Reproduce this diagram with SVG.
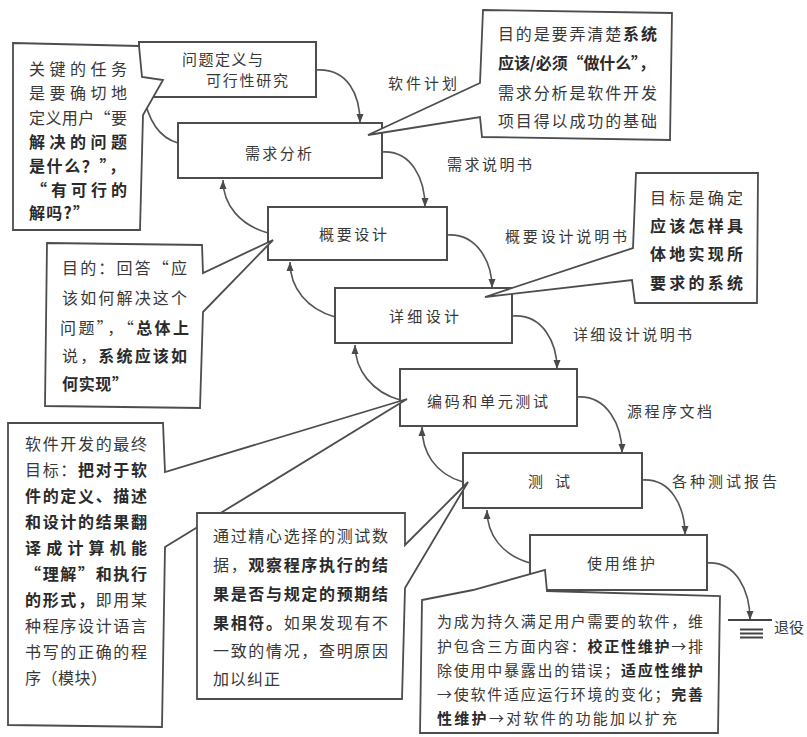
<svg xmlns="http://www.w3.org/2000/svg" width="807" height="737" viewBox="0 0 807 737">
<defs>
<marker id="ah" markerUnits="userSpaceOnUse" markerWidth="10" markerHeight="8" refX="9" refY="4" orient="auto">
<path d="M0,0.5 L9,4 L0,7.5 z" fill="#4a4a4a"/>
</marker>
<style>
.t{font-family:"Noto Sans CJK SC","Noto Sans",sans-serif;fill:#383838;font-size:15px;dominant-baseline:central;}
.c{font-size:16px;}
.c7{font-size:15px;}
.b{font-weight:bold;fill:#2a2a2a;}
.box{fill:#fff;stroke:#4d4d4d;stroke-width:2;}
.co{fill:#fff;stroke:#4d4d4d;stroke-width:1.8;stroke-linejoin:miter;}
.conn{fill:none;stroke:#555;stroke-width:1.6;marker-end:url(#ah);}
.ln{stroke:#444;stroke-width:2;}
</style>
</defs>
<rect x="0" y="0" width="807" height="737" fill="#fff"/>

<g id="connectors">
<path class="conn" d="M316,70 C348,68 360,95 360,123"/>
<path class="conn" d="M382,152 C412,150 425,180 425,207"/>
<path class="conn" d="M447,235 C477,233 492,262 492,288"/>
<path class="conn" d="M513,316 C543,314 557,343 557,369"/>
<path class="conn" d="M577,397 C607,395 622,425 622,453"/>
<path class="conn" d="M642,480 C672,478 685,508 685,535"/>
<path class="conn" d="M707,563 C737,561 750,592 750,620"/>
<path class="conn" d="M178,143 C160,138 148,122 143,92"/>
<path class="conn" d="M268,233 C240,225 223,205 223,180"/>
<path class="conn" d="M335,317 C307,309 290,288 290,262"/>
<path class="conn" d="M400,400 C372,392 355,370 355,345"/>
<path class="conn" d="M463,482 C435,474 422,452 422,427"/>
<path class="conn" d="M530,563 C502,555 487,535 487,510"/>
<text class="t" x="388" y="82" textLength="69" lengthAdjust="spacing">软件计划</text>
<text class="t" x="447" y="163" textLength="85" lengthAdjust="spacing">需求说明书</text>
<text class="t" x="505" y="235" textLength="122" lengthAdjust="spacing">概要设计说明书</text>
<text class="t" x="573" y="333" textLength="119" lengthAdjust="spacing">详细设计说明书</text>
<text class="t" x="627" y="410" textLength="85" lengthAdjust="spacing">源程序文档</text>
<text class="t" x="672" y="480" textLength="105" lengthAdjust="spacing">各种测试报告</text>
</g>

<g id="retire">
<line class="ln" x1="728" y1="620" x2="772" y2="620"/>
<line class="ln" x1="740" y1="629.5" x2="763" y2="629.5" stroke-width="1.6"/>
<line class="ln" x1="740" y1="633.5" x2="763" y2="633.5" stroke-width="1.6"/>
<line class="ln" x1="740" y1="637.5" x2="763" y2="637.5" stroke-width="1.6"/>
<text class="t" x="774" y="626" textLength="30" lengthAdjust="spacing">退役</text>
</g>

<g id="n1">
<rect class="box" x="139" y="42" width="177" height="55"/>
<text class="t" x="182" y="58" textLength="81" lengthAdjust="spacing">问题定义与</text>
<text class="t" x="206" y="79" textLength="82" lengthAdjust="spacing">可行性研究</text>
</g>
<g id="n2">
<rect class="box" x="178" y="123" width="204" height="55"/>
<text class="t" x="245" y="152" textLength="67" lengthAdjust="spacing">需求分析</text>
</g>
<g id="n3">
<rect class="box" x="268" y="207" width="179" height="53"/>
<text class="t" x="319" y="233" textLength="68" lengthAdjust="spacing">概要设计</text>
</g>
<g id="n4">
<rect class="box" x="335" y="288" width="177" height="55"/>
<text class="t" x="389" y="315" textLength="70" lengthAdjust="spacing">详细设计</text>
</g>
<g id="n5">
<rect class="box" x="400" y="369" width="177" height="57"/>
<text class="t" x="427" y="400" textLength="121" lengthAdjust="spacing">编码和单元测试</text>
</g>
<g id="n6">
<rect class="box" x="463" y="453" width="179" height="55"/>
<text class="t" x="528" y="480" textLength="42" lengthAdjust="spacing">测 试</text>
</g>
<g id="n7">
<rect class="box" x="530" y="535" width="177" height="55"/>
<text class="t" x="587" y="562" textLength="68" lengthAdjust="spacing">使用维护</text>
</g>

<g id="callout1">
<polygon class="co" points="13,43 139,46 142,77 163,80 143,115 140,230 13,230"/>
<text class="t c" x="29" y="68" textLength="98" lengthAdjust="spacing">关键的任务</text>
<text class="t c" x="29" y="92" textLength="98" lengthAdjust="spacing">是要确切地</text>
<text class="t c" x="29" y="117" textLength="98" lengthAdjust="spacing">定义用户“要</text>
<text class="t c b" x="29" y="141" textLength="98" lengthAdjust="spacing">解决的问题</text>
<text class="t c b" x="29" y="165" textLength="96" lengthAdjust="spacing">是什么？”，</text>
<text class="t c b" x="31" y="189" textLength="96" lengthAdjust="spacing">“有可行的</text>
<text class="t c b" x="29" y="212" textLength="60" lengthAdjust="spacing">解吗?”</text>
</g>

<g id="callout2">
<polygon class="co" points="483,10 672,13 670,140 482,137 480,117 368,135 480,83"/>
<text class="t c" x="498" y="33" textLength="159" lengthAdjust="spacing">目的是要弄清楚<tspan class="b">系统</tspan></text>
<text class="t c b" x="498" y="62" textLength="157" lengthAdjust="spacing">应该/必须“做什么”，</text>
<text class="t c" x="498" y="92" textLength="159" lengthAdjust="spacing">需求分析是软件开发</text>
<text class="t c" x="498" y="120" textLength="159" lengthAdjust="spacing">项目得以成功的基础</text>
</g>

<g id="callout3">
<polygon class="co" points="636,173 758,173 757,303 635,303 632,280 485,297 633,248"/>
<text class="t c" x="650" y="197" textLength="93" lengthAdjust="spacing">目标是确定</text>
<text class="t c b" x="650" y="225" textLength="93" lengthAdjust="spacing">应该怎样具</text>
<text class="t c b" x="650" y="253" textLength="93" lengthAdjust="spacing">体地实现所</text>
<text class="t c b" x="650" y="282" textLength="93" lengthAdjust="spacing">要求的系统</text>
</g>

<g id="callout4">
<polygon class="co" points="47,243 202,245 203,273 273,240 203,312 200,408 45,406"/>
<text class="t c" x="62" y="267" textLength="125" lengthAdjust="spacing">目的：回答“应</text>
<text class="t c" x="62" y="297" textLength="125" lengthAdjust="spacing">该如何解决这个</text>
<text class="t c" x="60" y="327" textLength="129" lengthAdjust="spacing">问题”，“<tspan class="b">总体上</tspan></text>
<text class="t c" x="62" y="355" textLength="125" lengthAdjust="spacing">说，<tspan class="b">系统应该如</tspan></text>
<text class="t c b" x="62" y="383" textLength="66" lengthAdjust="spacing">何实现”</text>
</g>

<g id="callout5">
<polygon class="co" points="8,423 163,423 165,472 407,399 165,547 162,727 8,725"/>
<text class="t c" x="25" y="443" textLength="122" lengthAdjust="spacing">软件开发的最终</text>
<text class="t c" x="25" y="469" textLength="122" lengthAdjust="spacing">目标：<tspan class="b">把对于软</tspan></text>
<text class="t c b" x="25" y="495" textLength="122" lengthAdjust="spacing">件的定义、描述</text>
<text class="t c b" x="25" y="521" textLength="122" lengthAdjust="spacing">和设计的结果翻</text>
<text class="t c b" x="25" y="547" textLength="122" lengthAdjust="spacing">译成计算机能</text>
<text class="t c b" x="25" y="573" textLength="122" lengthAdjust="spacing">“理解”和执行</text>
<text class="t c" x="25" y="599" textLength="122" lengthAdjust="spacing"><tspan class="b">的形式，</tspan>即用某</text>
<text class="t c" x="25" y="625" textLength="122" lengthAdjust="spacing">种程序设计语言</text>
<text class="t c" x="25" y="651" textLength="122" lengthAdjust="spacing">书写的正确的程</text>
<text class="t c" x="25" y="677" textLength="82" lengthAdjust="spacing">序（模块）</text>
</g>

<g id="callout6">
<polygon class="co" points="197,513 405,513 405,545 468,482 405,588 402,699 197,699"/>
<text class="t c" x="213" y="535" textLength="175" lengthAdjust="spacing">通过精心选择的测试数</text>
<text class="t c" x="213" y="564" textLength="175" lengthAdjust="spacing">据，<tspan class="b">观察程序执行的结</tspan></text>
<text class="t c b" x="213" y="593" textLength="175" lengthAdjust="spacing">果是否与规定的预期结</text>
<text class="t c" x="213" y="622" textLength="175" lengthAdjust="spacing"><tspan class="b">果相符。</tspan>如果发现有不</text>
<text class="t c" x="213" y="650" textLength="175" lengthAdjust="spacing">一致的情况，查明原因</text>
<text class="t c" x="213" y="678" textLength="67" lengthAdjust="spacing">加以纠正</text>
</g>

<g id="callout7">
<polygon class="co" points="422,600 473,590 545,570 547,591 720,596 718,733 420,733"/>
<text class="t c7" x="437" y="620" textLength="266" lengthAdjust="spacing">为成为持久满足用户需要的软件，维</text>
<text class="t c7" x="437" y="645" textLength="266" lengthAdjust="spacing">护包含三方面内容：<tspan class="b">校正性维护</tspan>→排</text>
<text class="t c7" x="437" y="669" textLength="266" lengthAdjust="spacing">除使用中暴露出的错误；<tspan class="b">适应性维护</tspan></text>
<text class="t c7" x="437" y="693" textLength="266" lengthAdjust="spacing">→使软件适应运行环境的变化；<tspan class="b">完善</tspan></text>
<text class="t c7" x="437" y="717" textLength="240" lengthAdjust="spacing"><tspan class="b">性维护</tspan>→对软件的功能加以扩充</text>
</g>
</svg>
